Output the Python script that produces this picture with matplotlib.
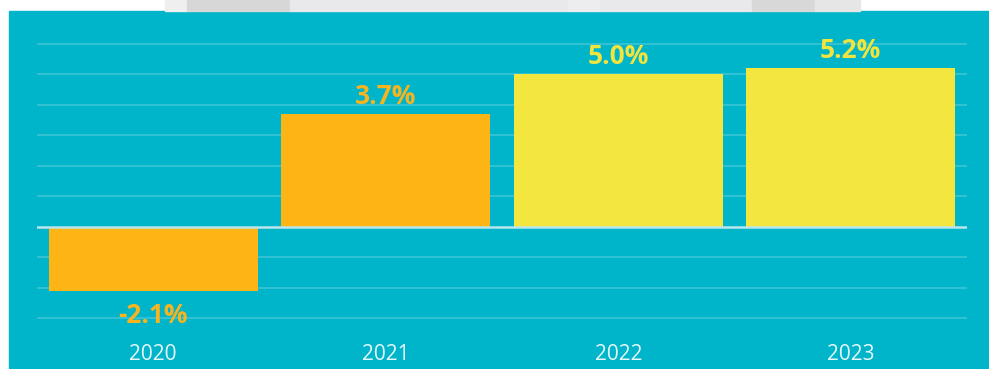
import matplotlib
matplotlib.use("Agg")
import matplotlib.pyplot as plt
from matplotlib.patches import Rectangle

# GDP growth by year
years = ["2020", "2021", "2022", "2023"]
growth = [-2.1, 3.7, 5.0, 5.2]
bar_colors = ["#FDB515", "#FDB515", "#F2E63F", "#F2E63F"]
label_colors = ["#F8B41F", "#F8B41F", "#F0E43E", "#F0E43E"]
grid_levels = [-3, -2, -1, 1, 2, 3, 4, 5, 6]

teal = "#00B5C9"
W, H = 989, 369

plt.rcParams["font.family"] = ["Open Sans", "DejaVu Sans"]

fig = plt.figure(figsize=(W / 100, H / 100), dpi=100)
fig.patch.set_facecolor("white")

# teal panel + faded strip on top
fig.patches.append(Rectangle((9 / W, 0), 1 - 9 / W, (H - 11) / H,
                             transform=fig.transFigure, color=teal, zorder=-10))
for x0, x1, c in [(165, 187, "#EFEFEF"), (187, 290, "#D7D7D7"), (290, 568, "#E9E9EC"),
                  (568, 600, "#EDEDEF"), (600, 752, "#E9E9EC"), (752, 815, "#D8D8D8"),
                  (815, 860, "#E6E6E6")]:
    fig.patches.append(Rectangle((x0 / W, (H - 11) / H), (x1 - x0) / W, 11 / H,
                                 transform=fig.transFigure, color=c, zorder=-10))

ax = fig.add_axes([37 / W, (H - 330) / H, (967 - 37) / W, (330 - 14) / H])
ax.set_zorder(5)
ax.set_facecolor("none")
ax.set_xlim(-0.5, 3.5)
ax.set_ylim(-3.377, 6.98)

for g in grid_levels:
    ax.axhline(g, color="#38C3D4", lw=1.3, zorder=1)
ax.axhline(0, color="#B8E6EE", lw=1.8, zorder=3)

x = range(len(years))
ax.bar(x, growth, width=0.9, color=bar_colors, zorder=2)

for i, v in enumerate(growth):
    if v >= 0:
        ax.annotate(f"{v:.1f}%", (i, v), xytext=(0, 3), textcoords="offset points",
                    ha="center", va="bottom", fontsize=19, fontweight="bold",
                    color=label_colors[i])
    else:
        ax.annotate(f"{v:.1f}%", (i, v), xytext=(0, -8), textcoords="offset points",
                    ha="center", va="top", fontsize=19, fontweight="bold",
                    color=label_colors[i])

ax.set_xticks(list(x))
ax.set_xticklabels(years, fontsize=15, color="#E6F7FA")
ax.tick_params(axis="x", length=0, pad=10)
ax.set_yticks([])
for s in ax.spines.values():
    s.set_visible(False)

fig.savefig("out.png", dpi=100, facecolor=fig.get_facecolor())
